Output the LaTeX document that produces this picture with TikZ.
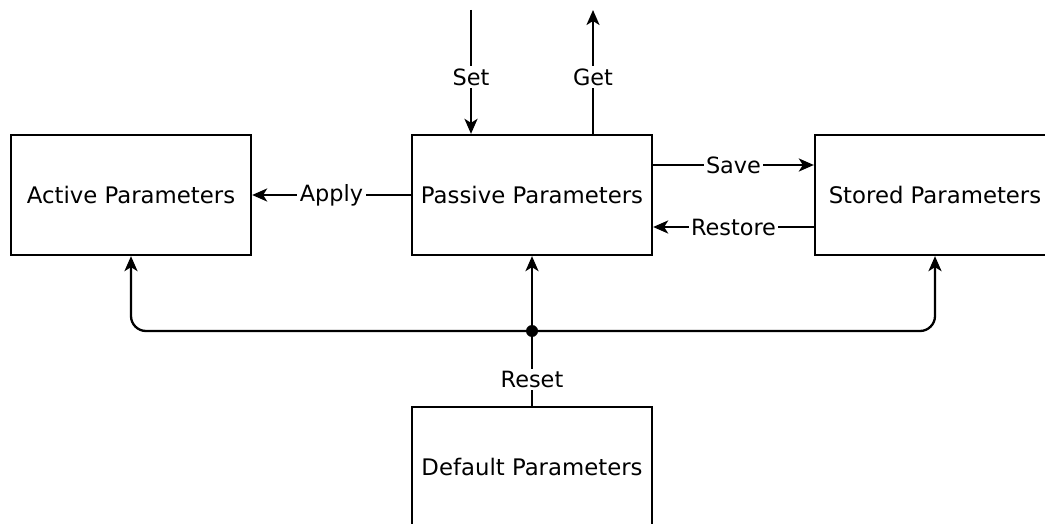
\documentclass[tikz,border=0pt]{standalone}
\usepackage{fontspec}
\setmainfont{DejaVu Sans}
\usetikzlibrary{arrows.meta}

\begin{document}
\begin{tikzpicture}[x=.5pt,y=-.5pt,line width=1.15pt,>={Stealth[length=7.5pt,width=6.5pt,inset=2pt]},
 param/.style={draw,minimum width=120pt,minimum height=60pt,inner sep=0pt,font=\fontsize{11.4}{13}\selectfont},
 lbl/.style={fill=white,inner sep=1.2pt,font=\fontsize{11.2}{13}\selectfont}]
\useasboundingbox (0,0) rectangle (1045,524);
\node[param] (active) at (131,195){Active Parameters};
\node[param] (passive) at (532,195){Passive Parameters};
\node[param] (stored) at (935,195){Stored Parameters};
\node[param] (default) at (532,467){Default Parameters};
\coordinate (set) at (471,10);\coordinate (get) at (593,10);
\coordinate (sv) at (0,165);\coordinate (rs) at (0,227);\coordinate (j) at (532,331);
\draw[->] (set)--node[lbl,pos=.54]{Set}(set|-passive.north);
\draw[->] (get|-passive.north)--node[lbl,pos=.46]{Get}(get);
\draw[->] (passive.west)--node[lbl]{Apply}(active.east);
\draw[->] (passive.east|-sv)--node[lbl]{Save}(stored.west|-sv);
\draw[->] (stored.west|-rs)--node[lbl]{Restore}(passive.east|-rs);
\draw (default.north)--node[lbl,pos=.35]{Reset}(j);
\draw[->] (j)--(passive.south);
\foreach \t in {active,stored}{\draw[->,rounded corners=7.5pt] (j)-|(\t.south);}
\fill (j) circle (3pt);
\end{tikzpicture}
\end{document}
